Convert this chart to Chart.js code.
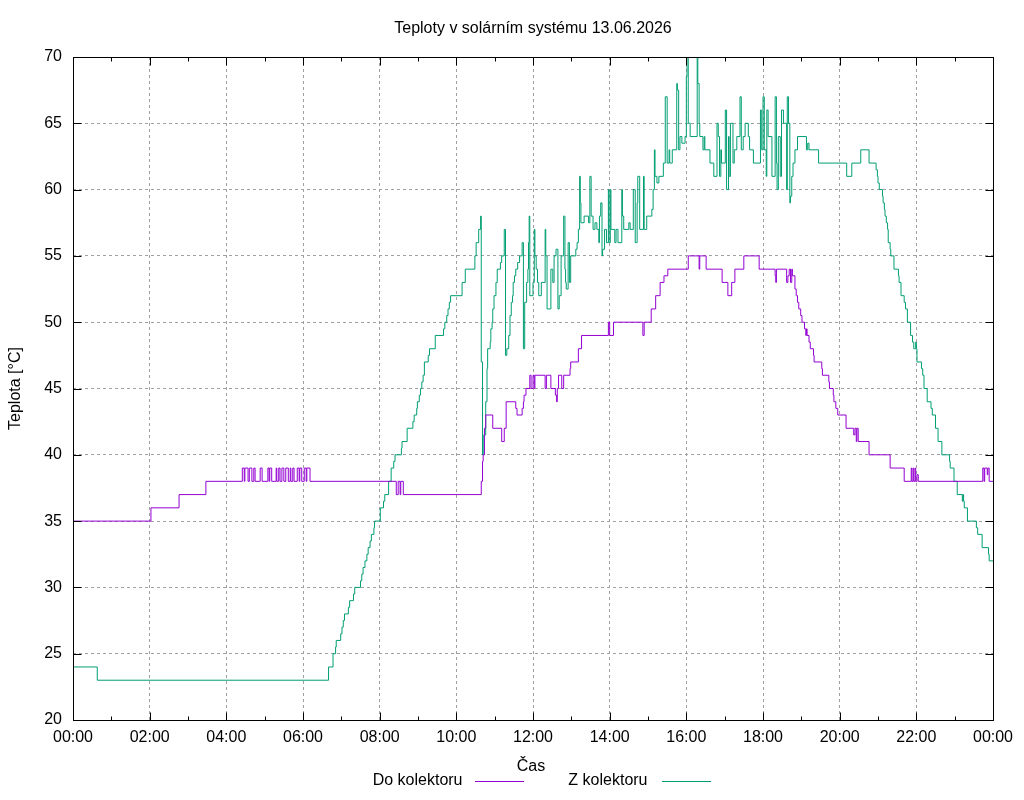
<!DOCTYPE html>
<html><head><meta charset="utf-8">
<script src="https://cdn.jsdelivr.net/npm/chart.js@4.4.1/dist/chart.umd.min.js"></script>
<style>html,body{margin:0;padding:0;background:#fff;}canvas{display:block;}</style>
</head><body>
<canvas id="c" width="1024" height="800"></canvas>
<script>
const chartTitle = 'Teploty v solárním systému 13.06.2026';
const xAxisTitle = 'Čas';
const yAxisTitle = 'Teplota [°C]';
const seriesNames = ['Do kolektoru', 'Z kolektoru'];
const seriesColors = ['#9400d3', '#009e73'];
const xTickLabels = ['00:00','02:00','04:00','06:00','08:00','10:00','12:00','14:00','16:00','18:00','20:00','22:00','00:00'];

// time in minutes since midnight, value in °C (value holds from that time on)
const doTimes = [
  0,122,166,208,
  265,268,269,274,276,280,283,285,
  293,296,305,307,308,311,318,319,
  322,324,327,330,333,337,340,341,
  344,346,351,354,355,358,362,365,
  366,371,
  506,509,512,513,517,
  639,641,642,644,646,657,671,675,678,693,695,703,705,706,709,
  715,717,720,722,723,739,741,748,755,757,758,760,765,768,778,779,791,796,
  838,840,846,892,894,905,912,919,925,931,963,980,981,991,
  1016,1025,1031,1036,1050,1074,1099,1100,1101,1117,1119,1121,1123,1125,1126,
  1130,1132,1134,1136,1139,1141,1145,1147,1148,1149,1152,1154,1159,1160,1172,1173,1183,1184,1190,1191,
  1194,1197,1210,1222,1224,1226,1227,1229,1246,1279,1301,
  1312,1313,1315,1316,1318,1319,1321,1323,1424,1426,1427,1431,1432,1434,1440
];
const doValues = [
  35,36,37,38,
  39,38,39,38,39,38,39,38,
  39,38,39,38,39,38,39,38,
  39,38,39,38,39,38,39,38,
  39,38,39,38,39,38,39,38,
  39,38,
  37,38,37,38,37,
  38,39.5,40,42,43,42,41,42,44,43.5,43,43.5,44,44.5,45,
  46,45,46,45,46,45,46,45,44.5,44,45,46,45,46,46.5,47,48,49,
  50,49,50,49,50,51,52,53,53.5,54,55,54,55,54,
  53,52,53,54,55,54,53.5,53,54,53,53.5,54,53,54,53.5,
  52.5,52,51.5,51,50.5,50,49.5,49,49.5,49,48.5,48,47.5,47,46.5,46,45.5,45,44.5,44,
  43.5,43,42,41.5,42,41,42,41,40,39,38,
  39,38,39,38,39,38,38.5,38,39,38,39,38.5,39,38,38
];

const zTimes = [
  0,38,400,407,411,412,419,421,423,425,431,433,439,441,450,452,454,457,460,462,465,467,471,472,
  481,486,488,494,498,502,504,514,515,523,532,534,538,539,542,544,546,548,550,556,558,567,580,582,585,587,589,591,609,614,629,631,635,638,
  639,641,643,646,648,649,653,654,656,657,659,662,664,669,671,675,677,679,682,684,686,688,689,691,693,696,699,703,705,707,710,712,713,714,715,720,722,723,725,727,729,733,739,740,742,748,751,753,756,759,761,764,768,770,771,772,775,777,779,787,789,791,793,794,795,800,807,809,811,814,817,820,823,824,826,828,829,832,835,838,839,
  841,842,848,850,853,859,860,862,870,872,877,880,883,884,887,893,894,898,906,908,910,911,914,917,924,927,930,933,934,938,945,946,948,950,953,958,960,961,963,966,977,978,980,981,986,988,989,997,
  1003,1008,1010,1012,1014,1015,1021,1023,1026,1027,1029,1033,1035,1039,1044,1046,1049,1052,1057,1059,1065,1076,1078,1080,1082,1085,1086,1088,1094,1099,1101,1102,1104,1107,1109,1112,1117,1118,1120,1122,1123,1125,1127,1130,1134,1148,1150,1152,1167,
  1211,1219,1233,1246,1257,1259,1260,1262,1267,1268,1270,1271,1273,1275,1276,1279,1280,1285,1292,1293,1296,1301,1303,1306,1311,1314,1316,1319,1320,1321,1328,1330,1332,1337,1343,1345,1350,1354,1360,1372,1373,1379,1384,1392,1393,1394,1395,1400,1414,1416,1423,1433,1434,1440
];
const zValues = [
  24,23,24,25,25.5,26,26.5,27,27.5,28,28.5,29,29.5,30,30.5,31,31.5,32,32.5,33,33.5,34,34.5,35,
  36,36.5,37,38,39,39.5,40,40.5,41,42,42.5,43,43.5,44,44.5,45,45.5,46,47,47.5,48,49,49.5,50,50.5,51,51.5,52,53,54,55,56,57,58,
  47,40,41.5,44,46.5,48,48.5,49.5,50,51,52,53,54,54.5,55,57,47.5,48,49,50.5,51.5,52,53,53.5,54,54.5,55,56,48,51.5,53,54,56,58,52,53,57,55,54,53,52,53,57,55,51,54,53,55,55.5,51,52,55,58,54,53,52.5,56,53,55,55.5,56,57,61,59,57.5,58,57.5,61,58,57,57.5,57,56,58,59,55,55.5,57,56,60,56,
  60,57,56,57,56,60,58,57,57.5,57,60,56,59,61,57,61,57,58,58.5,60,63,61,60.5,61,62,67,62,63,62,63,68,67.5,63,64,63.5,64,68.5,70,65,64,70,68,65,64,63,64,63,62,
  61,65,64,61,63,62,66,60,64,61,65,62,63,64,67,63,64,65,64,63,62,66,63,67,63,61,66,64,61,67,62,60,64,61,66,65,60,67,65,59,59.5,61,62,63,64,63,63.5,63,62,
  61,62,63,62,61.5,61,60.5,60,59.5,59,58.5,58,57.5,57,56,55.5,55,54,53.5,53,52,51.5,51,50,49,48.5,48,48.5,48,47,46.5,46,45,44,43.5,43,42,41,40,39.5,39,38,37,36.5,37,36.5,36,35,34.5,34,33,32.5,32,32
];

const FONT = "'Liberation Sans', Arial, Helvetica, sans-serif";
const toPoints = (t, v) => t.map((x, i) => ({ x: x, y: v[i] }));

const framePlugin = {
  id: 'frame',
  afterDatasetsDraw(chart) {
    const { ctx, chartArea: a, scales } = chart;
    const xs = scales.x, ys = scales.y;
    const L = Math.round(a.left) + 0.5, R = Math.round(a.right) + 0.5;
    const T = Math.round(a.top) + 0.5, B = Math.round(a.bottom) + 0.5;
    ctx.save();
    ctx.strokeStyle = '#000';
    ctx.lineWidth = 1;
    ctx.beginPath();
    const major = 8, minor = 4;
    const xt = xs.ticks.map(t => t.value);
    xt.forEach((v, i) => {
      const px = Math.round(xs.getPixelForValue(v)) + 0.5;
      ctx.moveTo(px, B); ctx.lineTo(px, B - major);
      ctx.moveTo(px, T); ctx.lineTo(px, T + major);
      if (i < xt.length - 1) {
        const mp = Math.round(xs.getPixelForValue((v + xt[i + 1]) / 2)) + 0.5;
        ctx.moveTo(mp, B); ctx.lineTo(mp, B - minor);
        ctx.moveTo(mp, T); ctx.lineTo(mp, T + minor);
      }
    });
    ys.ticks.forEach(t => {
      const py = Math.round(ys.getPixelForValue(t.value)) + 0.5;
      ctx.moveTo(L, py); ctx.lineTo(L + major, py);
      ctx.moveTo(R, py); ctx.lineTo(R - major, py);
    });
    ctx.stroke();
    ctx.strokeRect(L, T, R - L, B - T);
    ctx.restore();
  },
  afterDraw(chart) {
    const { ctx, chartArea: a } = chart;
    ctx.save();
    ctx.fillStyle = '#000';
    ctx.font = '16px ' + FONT;
    ctx.textBaseline = 'middle';
    ctx.textAlign = 'center';
    ctx.fillText(chartTitle, (a.left + a.right) / 2, 29);
    ctx.fillText(xAxisTitle, 531, 767);
    ctx.save();
    ctx.translate(16, (a.top + a.bottom) / 2);
    ctx.rotate(-Math.PI / 2);
    ctx.fillText(yAxisTitle, 0, 0);
    ctx.restore();
    // legend
    const legendY = 781;
    const entries = [{ textRight: 462.5, x0: 475, x1: 524 }, { textRight: 647.5, x0: 662, x1: 711 }];
    ctx.textAlign = 'right';
    entries.forEach((e, i) => {
      ctx.fillStyle = '#000';
      ctx.fillText(seriesNames[i], e.textRight, legendY);
    });
    entries.forEach((e, i) => {
      ctx.fillStyle = chart.data.datasets[i].borderColor;
      ctx.fillRect(e.x0, legendY, e.x1 - e.x0, 1);
    });
    ctx.restore();
  }
};

new Chart(document.getElementById('c'), {
  type: 'line',
  data: {
    datasets: [
      { label: seriesNames[0], data: toPoints(doTimes, doValues), borderColor: seriesColors[0], backgroundColor: seriesColors[0], borderWidth: 1, pointRadius: 0, stepped: true, fill: false },
      { label: seriesNames[1], data: toPoints(zTimes, zValues), borderColor: seriesColors[1], backgroundColor: seriesColors[1], borderWidth: 1, pointRadius: 0, stepped: true, fill: false }
    ]
  },
  options: {
    responsive: false,
    animation: false,
    devicePixelRatio: 1,
    layout: { padding: { left: 0, right: 31, top: 57, bottom: 0 } },
    plugins: {
      legend: { display: false },
      tooltip: { enabled: false },
      title: { display: false }
    },
    scales: {
      x: {
        type: 'linear', min: 0, max: 1440,
        afterFit: s => { s.height = 80; },
        ticks: {
          stepSize: 120, autoSkip: false, maxRotation: 0, minRotation: 0,
          color: '#000', font: { family: FONT, size: 16 }, padding: 8,
          callback: v => xTickLabels[Math.round(v / 120)]
        },
        grid: { color: '#a0a0a0', lineWidth: 1, drawTicks: false },
        border: { display: false, dash: [3, 3] }
      },
      y: {
        type: 'linear', min: 20, max: 70,
        afterFit: s => { s.width = 73; },
        ticks: {
          stepSize: 5, color: '#000', font: { family: FONT, size: 16 }, padding: 11
        },
        grid: { color: '#a0a0a0', lineWidth: 1, drawTicks: false },
        border: { display: false, dash: [3, 3] }
      }
    }
  },
  plugins: [framePlugin]
});
</script>
</body></html>
